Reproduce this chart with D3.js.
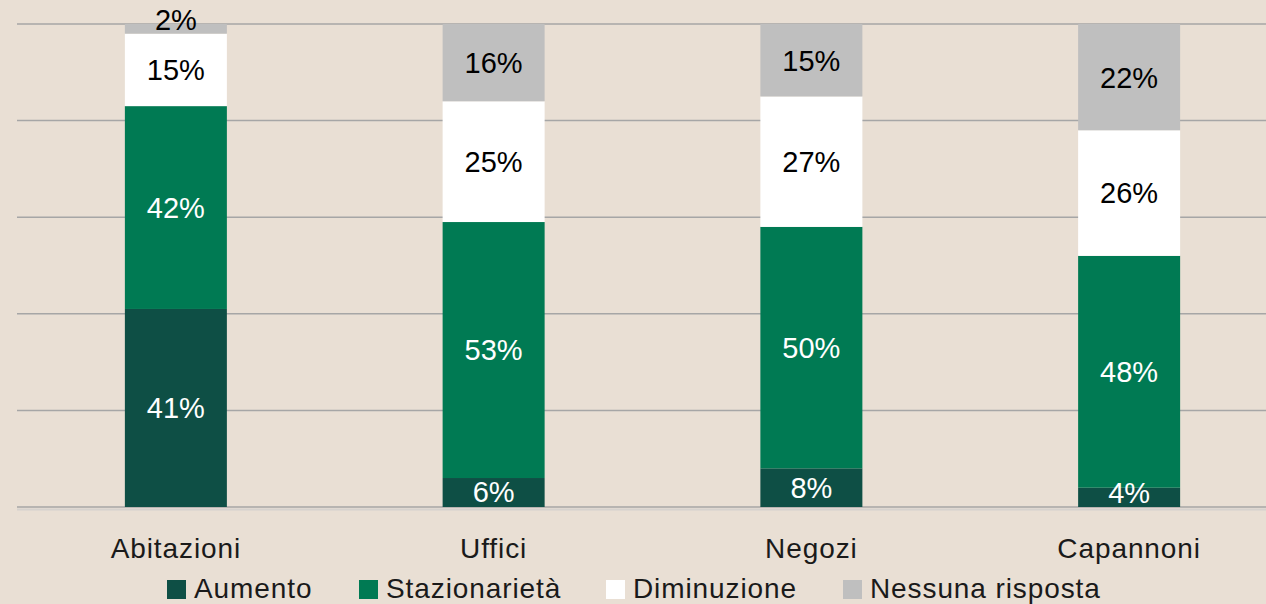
<!DOCTYPE html>
<html><head><meta charset="utf-8">
<script src="https://cdn.jsdelivr.net/npm/d3@7"></script>
<style>
html,body{margin:0;padding:0;background:#E9DFD4;}
svg{display:block;font-family:"Liberation Sans",Arial,sans-serif;}
</style></head><body>
<svg id="c" width="1266" height="604"></svg>
<script>
const categories = ["Abitazioni","Uffici","Negozi","Capannoni"];
const seriesNames = ["Aumento","Stazionarietà","Diminuzione","Nessuna risposta"];
const aumento = [41,6,8,4];
const stazionarieta = [42,53,50,48];
const diminuzione = [15,25,27,26];
const nessuna = [2,16,15,22];
const yTicks = [0,20,40,60,80,100];
const colors = ["#0E4F45","#007A53","#FFFFFF","#BFBFBF"];
const labelColors = ["#FFFFFF","#FFFFFF","#000000","#000000"];

const W = 1266, H = 604;
const svg = d3.select("#c");
svg.append("rect").attr("width",W).attr("height",H).attr("fill","#E9DFD4");

const x = d3.scaleBand().domain(categories).range([17,1288]).paddingInner(0.68).paddingOuter(0.34);
const y = d3.scaleLinear().domain([0,100]).range([507,24]);

// gridlines
svg.append("g").selectAll("line").data(yTicks).join("line")
  .attr("x1",17).attr("x2",W).attr("y1",d=>y(d)).attr("y2",d=>y(d))
  .attr("stroke","#A6A6A6").attr("stroke-width",1.5);
svg.append("line").attr("x1",17).attr("x2",W).attr("y1",y(0)+2.5).attr("y2",y(0)+2.5)
  .attr("stroke","#D6D2CE").attr("stroke-width",2);

const table = categories.map((c,i)=>({cat:c, Aumento:aumento[i], "Stazionarietà":stazionarieta[i], Diminuzione:diminuzione[i], "Nessuna risposta":nessuna[i]}));
const stack = d3.stack().keys(seriesNames)(table);

const bw = 102;
const g = svg.append("g");
stack.forEach((s,si)=>{
  const gg = g.append("g");
  gg.selectAll("rect").data(s).join("rect")
    .attr("x",d=>x(d.data.cat)+x.bandwidth()/2-bw/2)
    .attr("width",bw)
    .attr("y",d=>y(d[1]))
    .attr("height",d=>y(d[0])-y(d[1]))
    .attr("fill",colors[si]);
});
function labelY(d){
  const c = (y(d[0])+y(d[1]))/2;
  const h = y(d[0])-y(d[1]);
  return c - Math.max(0, 30-h)*0.45;
}
stack.forEach((s,si)=>{
  g.append("g").selectAll("text").data(s).join("text")
    .attr("x",d=>x(d.data.cat)+x.bandwidth()/2)
    .attr("y",labelY)
    .attr("dy","0.36em")
    .attr("text-anchor","middle")
    .attr("font-size",29)
    .attr("fill",labelColors[si])
    .text(d=>(d[1]-d[0])+"%");
});

// category axis labels
const xAxis = d3.axisBottom(x).tickSize(0).tickPadding(0);
const ax = svg.append("g").attr("transform","translate(0,538)").call(xAxis);
ax.select(".domain").remove();
ax.selectAll("text").attr("font-size",28).attr("fill","#1a1a1a")
  .attr("letter-spacing","0.9px")
  .attr("font-family","'Liberation Sans',Arial,sans-serif").attr("dy","0.72em");

// legend
const legendX = [167,359,606,843];
const lg = svg.append("g");
seriesNames.forEach((n,i)=>{
  lg.append("rect").attr("x",legendX[i]).attr("y",580).attr("width",19).attr("height",19)
    .attr("fill",colors[i]);
  lg.append("text").attr("x",legendX[i]+27).attr("y",598).attr("font-size",28)
    .attr("letter-spacing","0.9px")
    .attr("fill","#1a1a1a").text(n);
});
</script>
</body></html>
